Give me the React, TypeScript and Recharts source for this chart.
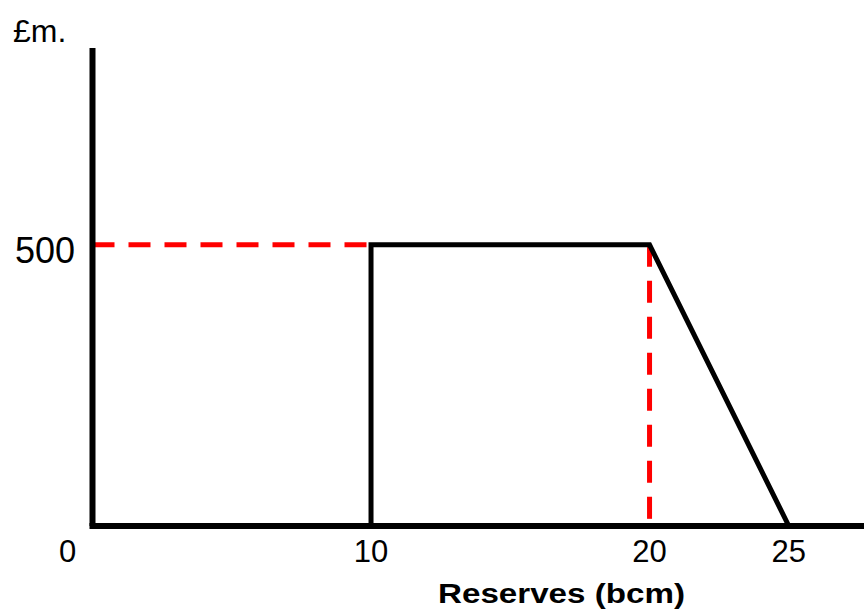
import { Label, Line, LineChart, XAxis, YAxis } from 'recharts';

// reserves (bcm) against value (£m.)
const valueX = [10, 10, 20, 25];
const valueY = [0, 500, 500, 0];
const guideHX = [0, 10];
const guideHY = [500, 500];
const guideVX = [20, 20];
const guideVY = [500, 0];
const xTicks = [0, 10, 20, 25];
const yTicks = [500];
const xMax = 27.7;
const yMax = 850;

const FONT = '"Liberation Sans", Arial, sans-serif';

const toPoints = (xs: number[], ys: number[]) => xs.map((x, i) => ({ x, y: ys[i] }));

const valueLine = toPoints(valueX, valueY);
const guideH = toPoints(guideHX, guideHY);
const guideV = toPoints(guideVX, guideVY);

function XTick({ x, y, payload }: any) {
  // the origin label sits left of the axis
  const shift = payload.value === 0 ? -25 : 0;
  return (
    <text x={x + shift} y={y} dy={22} textAnchor="middle" fontSize={31} fontFamily={FONT} fill="#000">
      {payload.value}
    </text>
  );
}

function YTick({ x, y, payload }: any) {
  return (
    <text x={x} y={y} dy={18} textAnchor="end" fontSize={36} fontFamily={FONT} fill="#000">
      {payload.value}
    </text>
  );
}

export default function App() {
  return (
    <div style={{ position: 'absolute', left: 0, top: 0, background: '#fff' }}>
      <LineChart width={864} height={610} margin={{ top: 48, right: 0, bottom: 54, left: 0 }}>
        <XAxis
          type="number"
          dataKey="x"
          domain={[0, xMax]}
          ticks={xTicks}
          tickLine={false}
          tickSize={0}
          tickMargin={14}
          height={30}
          tick={<XTick />}
          axisLine={{ stroke: '#000', strokeWidth: 6, strokeLinecap: 'square' }}
        >
          <Label
            content={({ viewBox }: any) => (
              <text
                x={viewBox.x + 469}
                y={viewBox.y + 77}
                textAnchor="middle"
                fontSize={28}
                fontWeight="bold"
                fontFamily={FONT}
                textLength={247}
                lengthAdjust="spacingAndGlyphs"
                fill="#000"
              >
                Reserves (bcm)
              </text>
            )}
          />
        </XAxis>
        <YAxis
          type="number"
          dataKey="y"
          domain={[0, yMax]}
          ticks={yTicks}
          width={92.5}
          tickLine={false}
          tickSize={0}
          tickMargin={17.5}
          tick={<YTick />}
          axisLine={{ stroke: '#000', strokeWidth: 6 }}
        >
          <Label
            content={({ viewBox }: any) => (
              <text x={viewBox.x + 13} y={viewBox.y - 6} textAnchor="start" fontSize={32} fontFamily={FONT} fill="#000">
                £m.
              </text>
            )}
          />
        </YAxis>
        <Line
          data={guideH}
          dataKey="y"
          type="linear"
          stroke="#ff0000"
          strokeWidth={5}
          strokeDasharray="22 14"
          dot={false}
          activeDot={false}
          isAnimationActive={false}
        />
        <Line
          data={guideV}
          dataKey="y"
          type="linear"
          stroke="#ff0000"
          strokeWidth={5}
          strokeDasharray="22 14"
          dot={false}
          activeDot={false}
          isAnimationActive={false}
        />
        <Line
          data={valueLine}
          dataKey="y"
          type="linear"
          stroke="#000"
          strokeWidth={5}
          dot={false}
          activeDot={false}
          isAnimationActive={false}
        />
      </LineChart>
    </div>
  );
}
